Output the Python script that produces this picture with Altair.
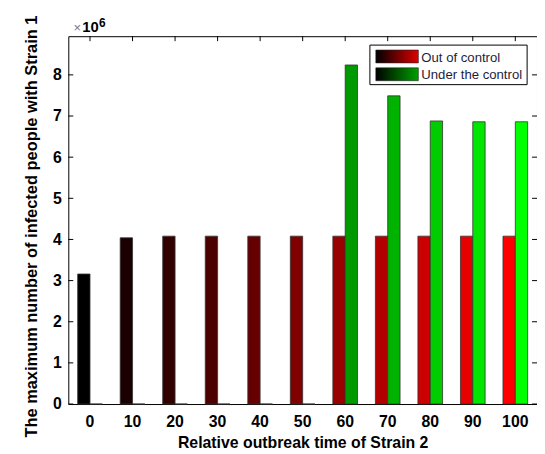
import altair as alt
import pandas as pd

# ---- data ----
times = [0, 10, 20, 30, 40, 50, 60, 70, 80, 90, 100]
out_of_control = [3.16, 4.04, 4.08, 4.08, 4.08, 4.08, 4.08, 4.08, 4.08, 4.08, 4.08]
under_control = [0, 0, 0, 0, 0, 0, 8.24, 7.49, 6.88, 6.86, 6.86]
series = ["Out of control", "Under the control"]
y_ticks = [0, 1, 2, 3, 4, 5, 6, 7, 8]

rows = []
for t, a, b in zip(times, out_of_control, under_control):
    rows.append({"time": t, "series": series[0], "value": a})
    rows.append({"time": t, "series": series[1], "value": b})
df = pd.DataFrame(rows)
ytick_df = pd.DataFrame({"value": y_ticks})
xtick_df = pd.DataFrame({"time": times})
one = pd.DataFrame({"a": [0]})

W, H = 474, 372
FONT = "Liberation Sans"
XT = "Relative outbreak time of Strain 2"
YT = "The maximum number of infected people with Strain 1"

xscale = alt.Scale(domain=times, paddingInner=0.42, paddingOuter=0.22)
yscale = alt.Scale(domain=[0, 8.94], nice=False, zero=True)
offscale = alt.Scale(domain=series)

def bars(name, end_color):
    return (
        alt.Chart(df)
        .transform_filter(alt.datum.series == name)
        .mark_bar(stroke="#333333", strokeWidth=0.8)
        .encode(
            x=alt.X("time:O", scale=xscale, title=XT,
                    axis=alt.Axis(labelAngle=0, values=times)),
            xOffset=alt.XOffset("series:N", scale=offscale),
            y=alt.Y("value:Q", scale=yscale, title=YT,
                    axis=alt.Axis(values=y_ticks, titleY=192)),
            color=alt.Color("time:Q", legend=None,
                            scale=alt.Scale(domain=[0, 100], range=["#000000", end_color],
                                            interpolate="rgb")),
        )
    )

red = bars(series[0], "#ff0000")
green = bars(series[1], "#00ff00")

# inward ticks on all four sides of the box
left_ticks = alt.Chart(ytick_df).mark_rule(color="black").encode(
    y=alt.Y("value:Q", scale=yscale, title=YT), x=alt.value(0), x2=alt.value(5))
right_ticks = alt.Chart(ytick_df).mark_rule(color="black").encode(
    y=alt.Y("value:Q", scale=yscale, title=YT), x=alt.value(W - 5), x2=alt.value(W))
top_ticks = alt.Chart(xtick_df).mark_rule(color="black").encode(
    x=alt.X("time:O", scale=xscale, bandPosition=0.5, title=XT), y=alt.value(0), y2=alt.value(5))

# legend box
lx0, ly0 = 305, 9
legend_box = alt.Chart(one).mark_rect(fill="white", stroke="black", strokeWidth=1).encode(
    x=alt.value(lx0), x2=alt.value(lx0 + 159), y=alt.value(ly0), y2=alt.value(ly0 + 40))

def swatch(end_color, y0):
    grad = alt.Gradient(gradient="linear",
                        stops=[alt.GradientStop(color="#000000", offset=0),
                               alt.GradientStop(color=end_color, offset=1)],
                        x1=0, x2=1, y1=0, y2=0)
    return alt.Chart(one).mark_rect(fill=grad, stroke="#222222", strokeWidth=0.6).encode(
        x=alt.value(lx0 + 6), x2=alt.value(lx0 + 49), y=alt.value(y0), y2=alt.value(y0 + 13))

sw1 = swatch("#dd0000", ly0 + 5)
sw2 = swatch("#00a000", ly0 + 23)

def ltext(label, yc):
    return alt.Chart(one).mark_text(text=label, font=FONT, fontSize=13.3, align="left",
                                    baseline="middle", color="#1e1e3c").encode(
        x=alt.value(lx0 + 52), y=alt.value(yc))

t1 = ltext(series[0], ly0 + 13.5)
t2 = ltext(series[1], ly0 + 30.5)

# x10^6 exponent label
times_sign = alt.Chart(one).mark_text(text="×", font=FONT, fontSize=13, align="center",
                                      baseline="alphabetic", color="#777777").encode(
    x=alt.value(9), y=alt.value(-4))
ten = alt.Chart(one).mark_text(text="10", font=FONT, fontSize=15, fontWeight="bold", align="left",
                               baseline="alphabetic", color="black").encode(
    x=alt.value(14), y=alt.value(-4))
six = alt.Chart(one).mark_text(text="6", font=FONT, fontSize=12, fontWeight="bold", align="left",
                               baseline="alphabetic", color="black").encode(
    x=alt.value(31), y=alt.value(-9))

chart = (
    alt.layer(red, green, left_ticks, right_ticks, top_ticks,
              legend_box, sw1, sw2, t1, t2, times_sign, ten, six)
    .resolve_scale(color="independent")
    .properties(width=W, height=H, autosize=alt.AutoSizeParams(type="none"),
                padding={"left": 61, "top": 26, "right": 0, "bottom": 46},
                background="white")
    .configure_view(stroke="black", strokeWidth=1)
    .configure_axis(grid=False, domain=False, ticks=False, tickSize=0,
                    labelFont=FONT, labelFontSize=16, labelFontWeight="bold", labelColor="black",
                    titleFont=FONT, titleFontWeight="bold", titleColor="black")
    .configure_axisX(labelPadding=10, titlePadding=5, titleFontSize=16)
    .configure_axisY(labelPadding=7, titlePadding=13, titleFontSize=16.6)
)

chart.save("out.html", embed_options={"renderer": "svg", "actions": False})
